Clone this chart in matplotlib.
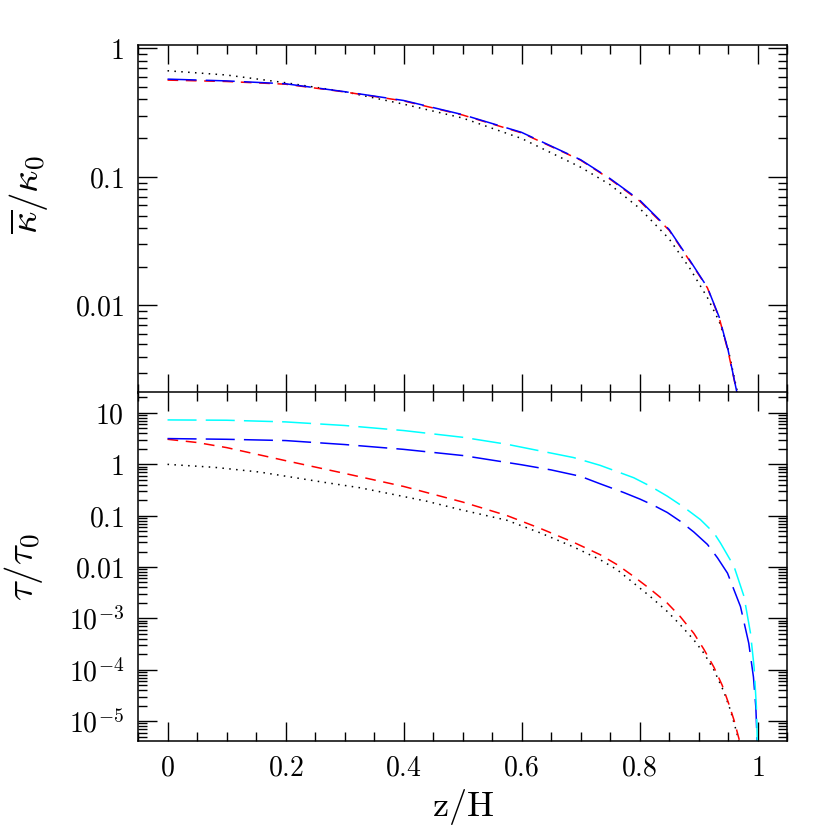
import numpy as np
import matplotlib
matplotlib.use('Agg')
import matplotlib.pyplot as plt
from matplotlib.ticker import FixedLocator, FixedFormatter, MultipleLocator, LogLocator, NullFormatter

plt.rcParams['mathtext.fontset'] = 'cm'
plt.rcParams['font.family'] = 'serif'
plt.rcParams['font.serif'] = ['DejaVu Serif']

# top panel: mean opacity kappa / kappa_0 vs z/H
z_top = [0, 0.1, 0.2, 0.3, 0.4, 0.5, 0.6, 0.7, 0.75, 0.8, 0.85, 0.885, 0.915, 0.935, 0.95, 0.965, 0.972]
kap_black = [0.669, 0.62, 0.54, 0.46, 0.368, 0.287, 0.199, 0.119, 0.087, 0.057, 0.033, 0.0195, 0.0115, 0.0075, 0.0046, 0.0022, 0.0012]
kap_red = [0.566, 0.552, 0.526, 0.458, 0.390, 0.303, 0.220, 0.135, 0.096, 0.065, 0.0385, 0.0222, 0.0137, 0.0080, 0.0044, 0.0021, 0.0012]
kap_blue = [0.576, 0.558, 0.530, 0.460, 0.393, 0.305, 0.222, 0.136, 0.097, 0.066, 0.039, 0.0225, 0.0138, 0.0081, 0.0045, 0.0021, 0.0012]

# bottom panel: optical depth tau / tau_0 vs z/H
z_blk = [0, 0.08, 0.156, 0.269, 0.326, 0.383, 0.439, 0.496, 0.575, 0.632, 0.688, 0.733, 0.762, 0.79,
         0.818, 0.847, 0.869, 0.892, 0.909, 0.926, 0.943, 0.954, 0.965, 0.972]
tau_black = [0.995, 0.87, 0.705, 0.438, 0.349, 0.258, 0.191, 0.131, 0.0813, 0.046, 0.0246, 0.0139, 0.00885,
             0.00486, 0.00267, 0.00136, 7.5e-4, 3.8e-4, 2.1e-4, 9.9e-5, 3.7e-5, 1.63e-5, 5.8e-6, 2.5e-6]
z_red = [0, 0.05, 0.1, 0.2, 0.3, 0.4, 0.5, 0.575, 0.632, 0.688, 0.733, 0.762, 0.79, 0.818, 0.847,
         0.869, 0.892, 0.909, 0.926, 0.94, 0.951, 0.96, 0.969, 0.975]
tau_red = [3.06, 2.65, 2.11, 1.175, 0.664, 0.37, 0.184, 0.1005, 0.0562, 0.0303, 0.0174, 0.0111, 0.00655,
           0.00372, 0.00198, 0.00108, 5.1e-4, 2.5e-4, 1.12e-4, 5.0e-5, 2.2e-5, 1.05e-5, 4.3e-6, 2.0e-6]
z_blue = [0, 0.1, 0.2, 0.3, 0.4, 0.5, 0.6, 0.65, 0.7, 0.733, 0.773, 0.801, 0.824, 0.847, 0.869, 0.892,
          0.915, 0.932, 0.949, 0.971, 0.985, 0.993, 0.997, 1.0]
tau_blue = [3.16, 3.06, 2.89, 2.42, 1.95, 1.48, 0.977, 0.776, 0.582, 0.417, 0.282, 0.209, 0.158, 0.115,
            0.0776, 0.0479, 0.0275, 0.0151, 0.00759, 0.0017, 3.3e-4, 7.2e-5, 1.9e-5, 2.5e-6]
z_cyan = [0, 0.1, 0.2, 0.3, 0.4, 0.5, 0.575, 0.688, 0.733, 0.79, 0.818, 0.847, 0.875, 0.903, 0.926,
          0.937, 0.96, 0.977, 0.988, 0.994, 0.998, 1.0]
tau_cyan = [7.29, 7.19, 6.67, 5.68, 4.53, 3.35, 2.45, 1.35, 0.953, 0.547, 0.375, 0.239, 0.146, 0.0839,
            0.0461, 0.0294, 0.0103, 0.00267, 5.14e-4, 1.15e-4, 1.89e-5, 2.5e-6]

x_ticks = [0, 0.2, 0.4, 0.6, 0.8, 1]
x_labels = ['$0$', '$0.2$', '$0.4$', '$0.6$', '$0.8$', '$1$']
top_ticks = [0.01, 0.1, 1]
top_labels = ['$0.01$', '$0.1$', '$1$']
bot_ticks = [1e-5, 1e-4, 1e-3, 0.01, 0.1, 1, 10]
bot_labels = ['$10^{-5}$', '$10^{-4}$', '$10^{-3}$', '$0.01$', '$0.1$', '$1$', '$10$']

fig = plt.figure(figsize=(8.3, 8.3), dpi=100)
ax1 = fig.add_axes([0.1663, 0.527, 0.782, 0.4187])
ax2 = fig.add_axes([0.1663, 0.1072, 0.782, 0.42])

dot = (0, (1.0, 3.5))
short = (0, (7, 5))
long_ = (0, (19, 6))

ax1.plot(z_top, kap_black, color='black', lw=1.1, ls=dot)
ax1.plot(z_top, kap_red, color='red', lw=1.1, ls=short)
ax1.plot(z_top, kap_blue, color='blue', lw=1.1, ls=long_)

ax2.plot(z_blk, tau_black, color='black', lw=1.1, ls=dot)
ax2.plot(z_red, tau_red, color='red', lw=1.1, ls=short)
ax2.plot(z_blue, tau_blue, color='blue', lw=1.1, ls=long_)
ax2.plot(z_cyan, tau_cyan, color='cyan', lw=1.1, ls=long_)

ax1.set_yscale('log')
ax2.set_yscale('log')
ax1.set_ylim(0.0021, 1.06)
ax2.set_ylim(4.1e-6, 25)

for ax in (ax1, ax2):
    ax.set_xlim(-0.05, 1.05)
    ax.xaxis.set_major_locator(FixedLocator(x_ticks))
    ax.xaxis.set_minor_locator(MultipleLocator(0.05))
    ax.yaxis.set_minor_locator(LogLocator(base=10, subs=np.arange(2, 10), numticks=20))
    ax.yaxis.set_minor_formatter(NullFormatter())
    ax.tick_params(which='both', direction='in', top=True, right=True, width=1.0)
    ax.tick_params(which='major', length=14, labelsize=20, pad=10)
    ax.tick_params(which='minor', length=6.5)
    for s in ax.spines.values():
        s.set_linewidth(1.1)

ax1.yaxis.set_major_locator(FixedLocator(top_ticks))
ax1.yaxis.set_major_formatter(FixedFormatter(top_labels))
ax1.tick_params(axis='x', labelbottom=False)

ax2.yaxis.set_major_locator(FixedLocator(bot_ticks))
ax2.yaxis.set_major_formatter(FixedFormatter(bot_labels))
ax2.xaxis.set_major_formatter(FixedFormatter(x_labels))

ax1.set_ylabel(r'$\overline{\kappa}/\kappa_0$', fontsize=28)
ax1.yaxis.set_label_coords(-0.135, 0.57)
ax2.set_ylabel(r'$\tau/\tau_0$', fontsize=28)
ax2.yaxis.set_label_coords(-0.143, 0.5)
ax2.set_xlabel(r'$\mathrm{z/H}$', fontsize=26, labelpad=4)

fig.savefig('out.png', dpi=100)
